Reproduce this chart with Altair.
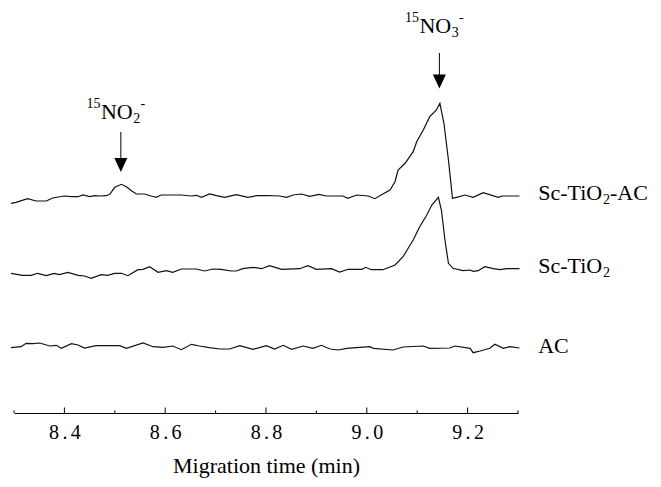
import altair as alt
import pandas as pd

SERIF = "Liberation Serif"

# ---- traces (time in min, signal in arbitrary units incl. vertical offset) ----
sc_tio2_ac_t = [8.294, 8.304, 8.327, 8.344, 8.364, 8.377, 8.400, 8.414, 8.427, 8.437,
                8.450, 8.460, 8.470, 8.483, 8.490, 8.500, 8.513, 8.523, 8.533, 8.543,
                8.559, 8.572, 8.582, 8.592, 8.632, 8.652, 8.662, 8.672, 8.688, 8.702,
                8.718, 8.741, 8.764, 8.781, 8.803, 8.827, 8.841, 8.854, 8.870, 8.887,
                8.905, 8.920, 8.953, 8.962, 8.980, 9.003, 9.016, 9.032, 9.046, 9.056,
                9.062, 9.076, 9.092, 9.099, 9.112, 9.125, 9.138, 9.145, 9.153, 9.162,
                9.170, 9.178, 9.195, 9.211, 9.231, 9.261, 9.268, 9.303]
sc_tio2_ac_v = [209.7, 210.7, 214.3, 212.0, 212.0, 215.0, 217.0, 216.3, 216.3, 218.0,
                216.3, 217.3, 217.0, 217.3, 218.7, 225.7, 228.7, 226.3, 222.3, 219.0,
                219.0, 217.0, 215.7, 218.0, 218.0, 217.0, 217.7, 215.7, 219.0, 217.3,
                215.7, 218.3, 215.7, 217.3, 217.5, 217.0, 215.7, 218.0, 219.0, 216.7,
                218.7, 217.0, 217.0, 214.7, 218.0, 217.0, 214.3, 219.0, 223.0, 231.3,
                243.0, 249.7, 261.3, 271.3, 283.0, 296.3, 303.0, 309.7, 289.7, 253.0,
                214.7, 215.7, 218.0, 215.7, 220.3, 215.7, 217.0, 217.0]

sc_tio2_t = [8.294, 8.317, 8.334, 8.347, 8.364, 8.380, 8.390, 8.407, 8.427, 8.440,
             8.453, 8.473, 8.486, 8.500, 8.513, 8.526, 8.546, 8.556, 8.569, 8.586,
             8.602, 8.615, 8.632, 8.662, 8.678, 8.695, 8.711, 8.731, 8.741, 8.754,
             8.774, 8.791, 8.807, 8.831, 8.867, 8.883, 8.900, 8.930, 8.946, 8.963,
             8.990, 8.998, 9.009, 9.032, 9.056, 9.072, 9.082, 9.092, 9.105, 9.119,
             9.129, 9.142, 9.148, 9.152, 9.155, 9.162, 9.171, 9.191, 9.205, 9.211,
             9.221, 9.234, 9.251, 9.264, 9.278, 9.303]
sc_tio2_v = [139.7, 137.7, 137.7, 139.7, 137.3, 139.7, 138.3, 140.7, 137.7, 137.0,
             134.7, 138.3, 137.7, 139.7, 139.7, 137.3, 143.3, 143.7, 146.3, 140.7,
             142.3, 140.7, 144.0, 144.0, 142.0, 144.0, 143.7, 142.0, 142.0, 144.3,
             145.7, 144.3, 147.3, 143.7, 144.3, 147.3, 143.7, 144.3, 141.0, 143.7,
             143.7, 145.7, 143.3, 143.3, 148.0, 156.3, 164.7, 173.0, 186.3, 198.0,
             208.0, 215.7, 203.0, 186.3, 173.0, 149.7, 144.7, 142.3, 143.0, 141.7,
             142.3, 146.3, 144.3, 143.3, 144.3, 144.3]

ac_t = [8.294, 8.314, 8.324, 8.337, 8.351, 8.371, 8.384, 8.394, 8.414, 8.427,
        8.440, 8.463, 8.510, 8.523, 8.556, 8.576, 8.596, 8.615, 8.632, 8.652,
        8.668, 8.688, 8.708, 8.728, 8.748, 8.774, 8.801, 8.817, 8.834, 8.851,
        8.874, 8.893, 8.910, 8.927, 8.943, 8.960, 8.986, 9.006, 9.013, 9.052,
        9.072, 9.112, 9.125, 9.165, 9.175, 9.205, 9.211, 9.225, 9.244, 9.254,
        9.271, 9.284, 9.303]
ac_v = [65.3, 66.3, 69.7, 69.3, 70.0, 67.0, 67.7, 64.7, 69.3, 68.0,
        65.0, 67.3, 67.3, 64.7, 70.0, 66.3, 65.7, 67.0, 63.3, 68.7,
        67.0, 65.3, 64.0, 64.0, 67.3, 63.7, 67.3, 64.0, 67.7, 63.7,
        67.0, 64.7, 67.7, 64.0, 63.0, 64.7, 65.7, 66.3, 64.7, 63.0,
        66.0, 67.0, 64.7, 65.0, 67.0, 64.7, 60.3, 62.0, 64.7, 68.7,
        64.7, 66.3, 65.0]

# ---- axis ticks ----
major_ticks = [8.4, 8.6, 8.8, 9.0, 9.2]
minor_ticks = [8.3, 8.5, 8.7, 8.9, 9.1, 9.3]

# ---- arrows: time, line top, line bottom, head centre ----
arrow_t = [8.512, 9.144]
arrow_top = [281, 360]
arrow_bottom = [253, 336]
arrow_head = [248, 331.5]

# ---- annotation labels (15NO2-, 15NO3-) ----
ann_t = [8.512, 9.144]
ann_v = [294, 380]
ann_sub = ["2", "3"]

# ---- series labels on the right ----
lab_t = 9.34
lab_v = [213.5, 139.8, 60.0]

rows = []
for name, ts, vs in [("Sc-TiO2-AC", sc_tio2_ac_t, sc_tio2_ac_v),
                     ("Sc-TiO2", sc_tio2_t, sc_tio2_v),
                     ("AC", ac_t, ac_v)]:
    for t, v in zip(ts, vs):
        rows.append({"series": name, "t": t, "v": v})
traces = pd.DataFrame(rows)

x_scale = alt.Scale(domain=[8.3, 9.3], nice=False, zero=False)
y_scale = alt.Scale(domain=[0, 405], nice=False, zero=False)

x_axis = alt.Axis(
    values=major_ticks,
    labelExpr="replace(format(datum.value, '.1f'), '.', '\u2006.\u2006')",
    labelFont=SERIF, labelFontSize=20, labelColor="black",
    labelPadding=9, ticks=False, tickSize=0, grid=False,
    domainColor="black", domainWidth=1,
    title="Migration time (min)", titleFont=SERIF, titleFontSize=22,
    titleFontWeight="normal", titleColor="black", titlePadding=13,
)

X = lambda: alt.X("t:Q", scale=x_scale)
Y = lambda: alt.Y("v:Q", scale=y_scale, axis=None)

lines = alt.Chart(traces).mark_line(color="#111", strokeWidth=1.2).encode(
    x=alt.X("t:Q", scale=x_scale, axis=x_axis),
    y=Y(),
    detail="series:N",
)

major = alt.Chart(pd.DataFrame({"t": major_ticks})).mark_rule(color="black", strokeWidth=1).encode(
    x=X(), y=alt.value(405), y2=alt.value(399.5))
minor = alt.Chart(pd.DataFrame({"t": minor_ticks})).mark_rule(color="black", strokeWidth=1).encode(
    x=X(), y=alt.value(405), y2=alt.value(402.5))

arr_df = pd.DataFrame({"t": arrow_t, "v": arrow_top, "v2": arrow_bottom, "h": arrow_head})
arrow_lines = alt.Chart(arr_df).mark_rule(color="black", strokeWidth=1).encode(
    x=X(), y=Y(), y2="v2:Q")
arrow_heads = alt.Chart(arr_df).mark_point(
    shape="M-0.93,-1L0.93,-1L0,1Z", size=196, filled=True, color="black", opacity=1, strokeWidth=0
).encode(x=X(), y=alt.Y("h:Q", scale=y_scale, axis=None))


def piece(texts, ts, vs, size, dx=0, dy=0, align="left"):
    df = pd.DataFrame({"t": ts, "v": vs, "label": texts})
    return alt.Chart(df).mark_text(
        font=SERIF, fontSize=size, dx=dx, dy=dy, align=align,
        baseline="alphabetic", color="black"
    ).encode(x=X(), y=Y(), text="label:N")


ann_layers = [
    piece(["NO", "NO"], ann_t, ann_v, 22, dx=-4, align="center"),
    piece(["15", "15"], ann_t, ann_v, 14, dx=-20.4, dy=-11, align="right"),
    piece(ann_sub, ann_t, ann_v, 14, dx=12.4, dy=4),
    piece(["-", "-"], ann_t, ann_v, 14, dx=19.6, dy=-11),
]

lab_layers = [
    piece(["Sc-TiO", "Sc-TiO", "AC"], [lab_t] * 3, lab_v, 22),
    piece(["2", "2"], [lab_t] * 2, lab_v[:2], 14, dx=64.8, dy=4),
    piece(["-AC"], [lab_t], lab_v[:1], 22, dx=71.8),
]

chart = alt.layer(lines, major, minor, arrow_lines, arrow_heads, *ann_layers, *lab_layers).properties(
    width=504, height=405,
    autosize=alt.AutoSizeParams(type="none"),
    padding={"left": 6, "top": 0, "right": 135, "bottom": 66},
    background="white",
).configure_view(stroke=None)

chart.save("out.html", embed_options={"renderer": "svg", "actions": False})
